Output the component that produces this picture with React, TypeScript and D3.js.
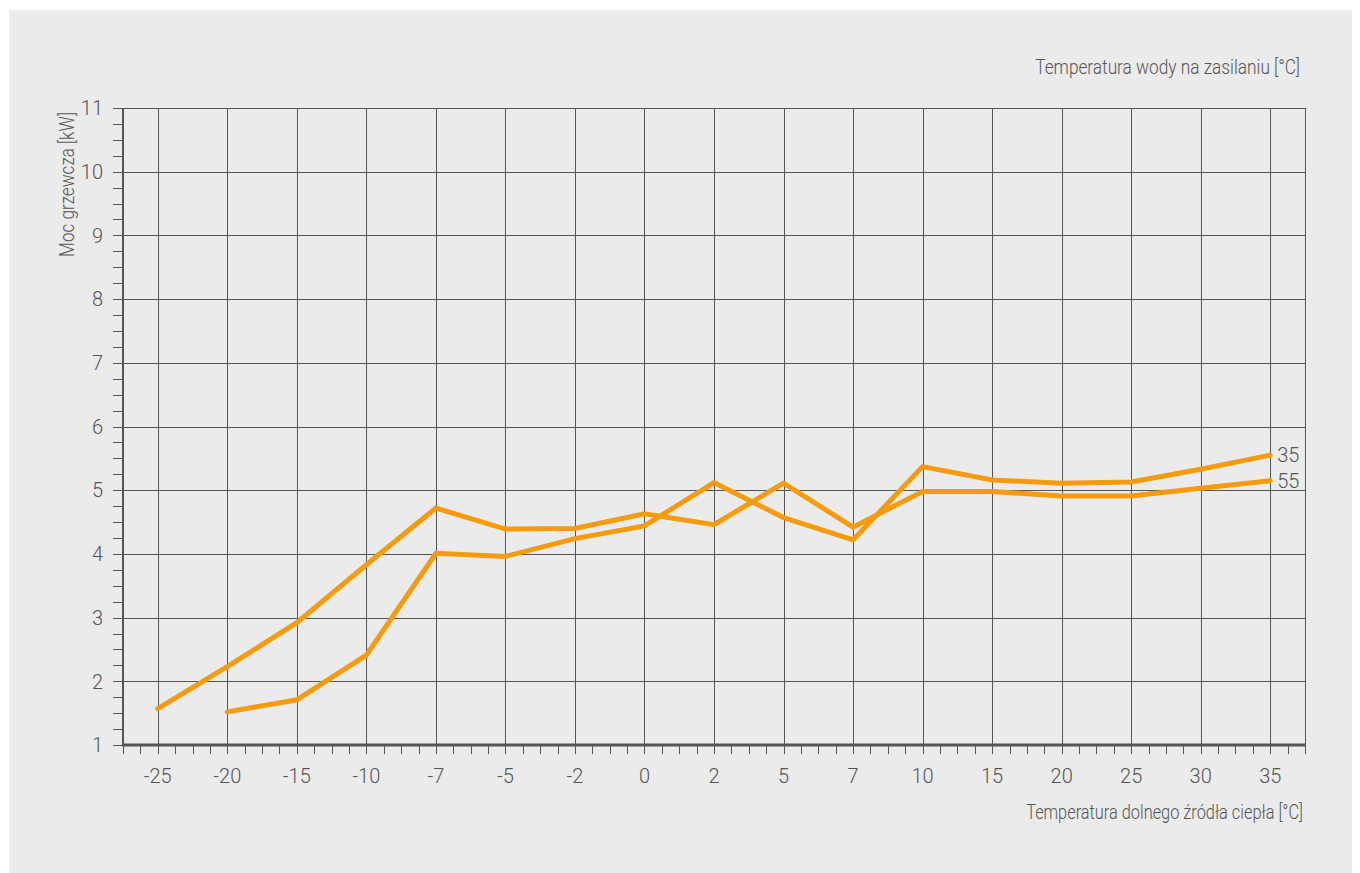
import { useEffect, useRef } from "react";
import * as d3 from "d3";

const categories = ["-25", "-20", "-15", "-10", "-7", "-5", "-2", "0", "2", "5", "7", "10", "15", "20", "25", "30", "35"];
// moc grzewcza [kW] dla temp. wody 35 i 55 °C
const series35 = [null, 1.52, 1.71, 2.41, 4.01, 3.96, 4.24, 4.44, 5.12, 4.57, 4.22, 5.37, 5.16, 5.11, 5.13, 5.33, 5.55];
const series55 = [1.57, 2.23, 2.92, 3.83, 4.72, 4.39, 4.40, 4.63, 4.46, 5.11, 4.42, 4.98, 4.98, 4.91, 4.91, 5.03, 5.15];
const seriesNames = ["35", "55"];
const yTicks = [1, 2, 3, 4, 5, 6, 7, 8, 9, 10, 11];

const titleTop = "Temperatura wody na zasilaniu [°C]";
const titleX = "Temperatura dolnego źródła ciepła [°C]";
const titleY = "Moc grzewcza [kW]";

export default function App() {
  const svgRef = useRef<SVGSVGElement | null>(null);

  useEffect(() => {
    if (!svgRef.current) return;

    const width = 1360;
    const height = 873;
    const left = 123, right = 1305, top = 108, bottom = 745;
    const grid = "#555";
    const textCol = "#555";
    const orange = "#f59b0c";
    const font = "Roboto, 'Liberation Sans', sans-serif";

    const svg = d3.select(svgRef.current);
    svg.selectAll("*").remove();
    svg.attr("width", width).attr("height", height);

    svg.append("rect")
      .attr("x", 9).attr("y", 10)
      .attr("width", 1343).attr("height", 863)
      .attr("fill", "#ebebeb");

    const x = d3.scaleBand<string>().domain(categories).range([left, right]).padding(0);
    const y = d3.scaleLinear().domain([1, 11]).range([bottom, top]);
    const bw = x.bandwidth();
    const cx = (c: string) => x(c)! + bw / 2;

    // horizontal grid
    svg.append("g")
      .selectAll("line")
      .data(yTicks)
      .enter()
      .append("line")
      .attr("x1", left).attr("x2", right)
      .attr("y1", d => Math.round(y(d)) + 0.5)
      .attr("y2", d => Math.round(y(d)) + 0.5)
      .attr("stroke", grid)
      .attr("stroke-width", 1);

    // vertical grid
    svg.append("g")
      .selectAll("line")
      .data(categories)
      .enter()
      .append("line")
      .attr("x1", d => Math.round(cx(d)) + 0.5)
      .attr("x2", d => Math.round(cx(d)) + 0.5)
      .attr("y1", top).attr("y2", bottom)
      .attr("stroke", grid)
      .attr("stroke-width", 1);

    // right border
    svg.append("line")
      .attr("x1", right + 0.5).attr("x2", right + 0.5)
      .attr("y1", top).attr("y2", bottom)
      .attr("stroke", grid);

    // y minor ticks (every 0.25)
    const yMinor = d3.range(1, 11.001, 0.25);
    svg.append("g")
      .selectAll("line")
      .data(yMinor)
      .enter()
      .append("line")
      .attr("x1", left - 10).attr("x2", left)
      .attr("y1", d => Math.round(y(d)) + 0.5)
      .attr("y2", d => Math.round(y(d)) + 0.5)
      .attr("stroke", grid)
      .attr("stroke-width", 1);

    // x ticks (every quarter band)
    const xMinor = d3.range(0, categories.length * 4 + 1).map(i => left + (i * bw) / 4);
    svg.append("g")
      .selectAll("line")
      .data(xMinor)
      .enter()
      .append("line")
      .attr("x1", d => Math.round(d) + 0.5)
      .attr("x2", d => Math.round(d) + 0.5)
      .attr("y1", bottom).attr("y2", bottom + 9)
      .attr("stroke", grid)
      .attr("stroke-width", 1);

    // axis lines
    svg.append("line")
      .attr("x1", left).attr("x2", left)
      .attr("y1", top).attr("y2", bottom + 1)
      .attr("stroke", grid).attr("stroke-width", 2);
    svg.append("line")
      .attr("x1", left - 1).attr("x2", right + 1)
      .attr("y1", bottom).attr("y2", bottom)
      .attr("stroke", grid).attr("stroke-width", 3);

    // tick labels
    svg.append("g")
      .selectAll("text")
      .data(yTicks)
      .enter()
      .append("text")
      .attr("x", 103)
      .attr("y", d => y(d))
      .attr("dy", "0.36em")
      .attr("text-anchor", "end")
      .attr("font-family", font)
      .attr("font-weight", 300)
      .attr("font-size", 20)
      .attr("fill", textCol)
      .text(d => d);

    svg.append("g")
      .selectAll("text")
      .data(categories)
      .enter()
      .append("text")
      .attr("x", d => cx(d))
      .attr("y", 783)
      .attr("text-anchor", "middle")
      .attr("font-family", font)
      .attr("font-weight", 300)
      .attr("font-size", 20)
      .attr("fill", textCol)
      .text(d => d);

    // titles: condensed look via horizontal scale fitted to the measured width
    const title = (t: string, tx: number, ty: number, len: number, rot = 0) => {
      const g = svg.append("g");
      const txt = g.append("text")
        .attr("text-anchor", "end")
        .attr("font-family", font)
        .attr("font-weight", 300)
        .attr("font-size", 20.5)
        .attr("fill", textCol)
        .text(t);
      const natural = (txt.node() as SVGTextElement).getComputedTextLength() || len;
      const sx = Math.min(1, len / natural);
      g.attr("transform", `translate(${tx},${ty}) rotate(${rot}) scale(${sx},1)`);
    };

    title(titleTop, 1300, 74, 265);
    title(titleX, 1303, 819, 277);
    title(titleY, 74, 112, 145, -90);

    // lines
    const line = d3.line<number | null>()
      .defined(d => d != null)
      .x((_, i) => cx(categories[i]))
      .y(d => y(d as number));

    [series35, series55].forEach((s, k) => {
      svg.append("path")
        .datum(s)
        .attr("d", line)
        .attr("fill", "none")
        .attr("stroke", orange)
        .attr("stroke-width", 5)
        .attr("stroke-linejoin", "miter")
        .attr("stroke-linecap", "round");

      const last = s.length - 1;
      svg.append("text")
        .attr("x", cx(categories[last]) + 7)
        .attr("y", y(s[last] as number))
        .attr("dy", "0.36em")
        .attr("font-family", font)
        .attr("font-weight", 300)
        .attr("font-size", 20)
        .attr("fill", textCol)
        .text(seriesNames[k]);
    });
  }, []);

  return <svg ref={svgRef} style={{ position: "absolute", left: 0, top: 0 }} />;
}
